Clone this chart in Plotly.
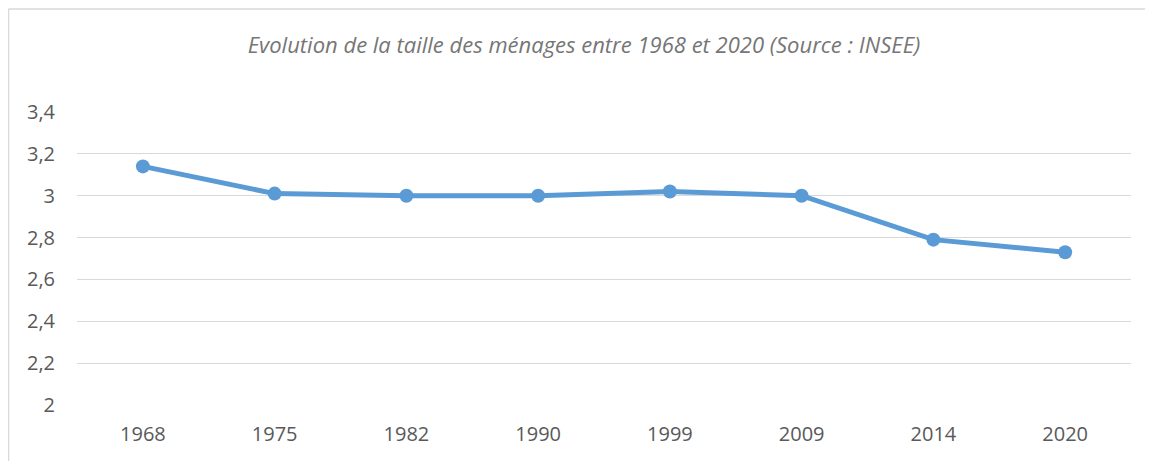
import plotly.graph_objects as go

years = ["1968", "1975", "1982", "1990", "1999", "2009", "2014", "2020"]
household_size = [3.14, 3.01, 3.00, 3.00, 3.02, 3.00, 2.79, 2.73]
y_ticks = [2.0, 2.2, 2.4, 2.6, 2.8, 3.0, 3.2, 3.4]
y_tick_labels = ["2", "2,2", "2,4", "2,6", "2,8", "3", "3,2", "3,4"]
title_text = "Evolution de la taille des ménages entre 1968 et 2020 (Source : INSEE)"

W, H = 1153, 461
OFF = 8  # page offset of the figure
ml, mr, mt, mb = 77 - OFF, 30, 112 - OFF, 64
pw, ph = W - ml - mr, H - mt - mb

fig = go.Figure(go.Scatter(
    x=years, y=household_size, mode="lines+markers",
    line=dict(color="#5B9BD5", width=5),
    marker=dict(color="#5B9BD5", size=14),
))

font_family = "'Open Sans', sans-serif"

# frame: left and top border lines (figure coords)
px = lambda x: (x - ml) / pw
py = lambda y: (H - mb - y) / ph
fig.add_shape(type="line", xref="paper", yref="paper",
              x0=px(0.5), x1=px(W + 20), y0=py(1), y1=py(1),
              line=dict(color="#d9d9d9", width=1.5))
fig.add_shape(type="line", xref="paper", yref="paper",
              x0=px(0.5), x1=px(0.5), y0=py(1), y1=py(H + 20),
              line=dict(color="#d9d9d9", width=1.5))

fig.update_layout(
    width=W, height=H,
    margin=dict(l=ml, r=mr, t=mt, b=mb),
    paper_bgcolor="white", plot_bgcolor="white",
    showlegend=False,
    title=dict(text=title_text, x=(584 - OFF) / W, xanchor="center",
               y=1 - (45 - OFF) / H, yanchor="middle",
               font=dict(family=font_family, size=22, color="#767676", style="italic")),
    font=dict(family=font_family, color="#595959"),
)
fig.update_xaxes(type="category", range=[-0.5, len(years) - 0.5],
                 showgrid=False, zeroline=False, showline=False,
                 tickfont=dict(size=20, color="#595959"), ticks="",
                 ticklabelstandoff=15)
fig.update_yaxes(range=[2, 3.4], tickvals=y_ticks, ticktext=y_tick_labels,
                 showgrid=True, gridcolor="#d9d9d9", gridwidth=1.3,
                 zeroline=False, showline=False, ticks="",
                 tickfont=dict(size=20, color="#595959"), ticklabelstandoff=21)

fig.write_html("out.html")
